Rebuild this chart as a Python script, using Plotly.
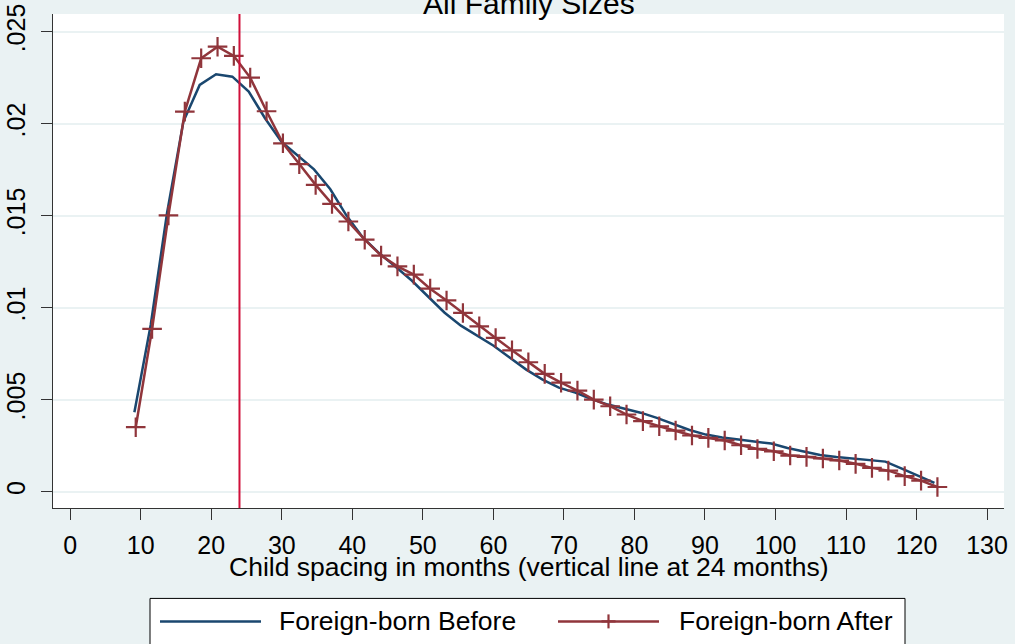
import plotly.graph_objects as go

# ---------------- data ----------------
x_before = [9.10, 11.42, 13.73, 16.05, 18.36, 20.68, 22.99, 25.31, 27.62, 29.94,
            32.25, 34.57, 36.88, 39.20, 41.51, 43.83, 46.14, 48.46, 50.77, 53.09,
            55.40, 57.72, 60.03, 62.35, 64.66, 66.98, 69.29, 71.61, 73.92, 76.24,
            78.55, 80.87, 83.18, 85.50, 87.81, 90.13, 92.44, 94.76, 97.07, 99.39,
            101.70, 104.02, 106.33, 108.65, 110.96, 113.28, 115.59, 117.91, 120.22, 122.54]
y_before = [0.00432, 0.00908, 0.01516, 0.02012, 0.02211, 0.02269, 0.02256, 0.02175, 0.02030, 0.01903,
            0.01828, 0.01752, 0.01644, 0.01500, 0.01381, 0.01296, 0.01223, 0.01147, 0.01060, 0.00973,
            0.00903, 0.00849, 0.00794, 0.00729, 0.00664, 0.00610, 0.00566, 0.00539, 0.00504, 0.00474,
            0.00452, 0.00430, 0.00402, 0.00371, 0.00336, 0.00311, 0.00295, 0.00284, 0.00275, 0.00262,
            0.00238, 0.00219, 0.00200, 0.00189, 0.00181, 0.00173, 0.00164, 0.00126, 0.00088, 0.00049]

x_after = [9.29, 11.61, 13.93, 16.25, 18.57, 20.89, 23.20, 25.52, 27.84, 30.16,
           32.48, 34.80, 37.12, 39.44, 41.76, 44.08, 46.40, 48.72, 51.04, 53.36,
           55.68, 58.00, 60.32, 62.64, 64.96, 67.28, 69.60, 71.92, 74.24, 76.56,
           78.88, 81.20, 83.52, 85.84, 88.16, 90.48, 92.80, 95.12, 97.44, 99.76,
           102.08, 104.40, 106.72, 109.04, 111.36, 113.68, 116.00, 118.32, 120.64, 122.96]
y_after = [0.00351, 0.00885, 0.01502, 0.02066, 0.02356, 0.02419, 0.02369, 0.02251, 0.02068, 0.01894,
           0.01781, 0.01668, 0.01565, 0.01469, 0.01370, 0.01284, 0.01225, 0.01180, 0.01104, 0.01040,
           0.00972, 0.00899, 0.00836, 0.00769, 0.00704, 0.00641, 0.00593, 0.00550, 0.00501, 0.00465,
           0.00420, 0.00384, 0.00356, 0.00333, 0.00306, 0.00293, 0.00279, 0.00253, 0.00233, 0.00220,
           0.00197, 0.00190, 0.00181, 0.00170, 0.00152, 0.00130, 0.00115, 0.00085, 0.00061, 0.00026]

vline_x = 24
x_ticks = [0, 10, 20, 30, 40, 50, 60, 70, 80, 90, 100, 110, 120, 130]
y_ticks = [0, 0.005, 0.01, 0.015, 0.02, 0.025]
y_tick_text = ["0", ".005", ".01", ".015", ".02", ".025"]
series_names = ["Foreign-born Before", "Foreign-born After"]
title_text = "All Family Sizes"
x_title = "Child spacing in months (vertical line at 24 months)"

# ---------------- style ----------------
W, H = 1015, 644
L, R, T, B = 53, 1004, 14, 508.5
BG = "#EAF2F3"
BLUE = "#1A476F"
RED = "#90353B"
VRED = "#D0103A"
FONT = "Liberation Sans, Arial, sans-serif"
FS_TICK = 25
FS_TEXT = 26.5
FS_TITLE = 30


def px(xp):
    return (xp - L) / (R - L)


def py(yp):
    return (B - yp) / (B - T)


fig = go.Figure()
fig.add_trace(go.Scatter(x=x_before, y=y_before, mode="lines", name=series_names[0],
                         line=dict(color=BLUE, width=2.5), showlegend=False))
fig.add_trace(go.Scatter(x=x_after, y=y_after, mode="lines+markers", name=series_names[1],
                         line=dict(color=RED, width=2.5),
                         marker=dict(symbol="cross-thin", size=14, color=RED,
                                     line=dict(color=RED, width=2.2)),
                         showlegend=False))

shapes = [
    dict(type="line", xref="x", yref="paper", x0=vline_x, x1=vline_x, y0=0, y1=1,
         line=dict(color=VRED, width=2)),
    # legend box
    dict(type="rect", xref="paper", yref="paper", x0=px(150), x1=px(905), y0=py(599), y1=py(680),
         line=dict(color="black", width=1), fillcolor="white", layer="above"),
    dict(type="line", xref="paper", yref="paper", x0=px(160), x1=px(261), y0=py(622), y1=py(622),
         line=dict(color=BLUE, width=2.5)),
    dict(type="line", xref="paper", yref="paper", x0=px(558), x1=px(659), y0=py(622), y1=py(622),
         line=dict(color=RED, width=2.5)),
    dict(type="line", xref="paper", yref="paper", x0=px(608.5), x1=px(608.5), y0=py(615), y1=py(629),
         line=dict(color=RED, width=2.2)),
    dict(type="line", xref="paper", yref="paper", x0=px(601.5), x1=px(615.5), y0=py(622), y1=py(622),
         line=dict(color=RED, width=2.2)),
]

annotations = [
    dict(text=title_text, xref="paper", yref="paper", x=0.5, y=py(3),
         xanchor="center", yanchor="middle", showarrow=False,
         font=dict(family=FONT, size=FS_TITLE, color="black")),
    dict(text=x_title, xref="paper", yref="paper", x=0.5, y=py(568),
         xanchor="center", yanchor="middle", showarrow=False,
         font=dict(family=FONT, size=FS_TEXT, color="black")),
    dict(text=series_names[0], xref="paper", yref="paper", x=px(277), y=py(622),
         xanchor="left", yanchor="middle", showarrow=False,
         font=dict(family=FONT, size=FS_TEXT, color="black")),
    dict(text=series_names[1], xref="paper", yref="paper", x=px(677), y=py(622),
         xanchor="left", yanchor="middle", showarrow=False,
         font=dict(family=FONT, size=FS_TEXT, color="black")),
]

fig.update_layout(
    width=W, height=H,
    margin=dict(l=L, r=W - R, t=T, b=H - B, pad=0, autoexpand=False),
    paper_bgcolor=BG, plot_bgcolor="white",
    font=dict(family=FONT, size=FS_TICK, color="black"),
    shapes=shapes, annotations=annotations,
    showlegend=False,
)
fig.update_xaxes(range=[-2.44, 132.4], tickvals=x_ticks, ticks="outside", ticklen=11,
                 tickwidth=1, tickcolor="#333333", showline=True, linecolor="#333333",
                 linewidth=1, showgrid=False, zeroline=False, ticklabelstandoff=4,
                 automargin=False, tickfont=dict(family=FONT, size=FS_TICK))
fig.update_yaxes(range=[-0.00088, 0.025966], tickvals=y_ticks, ticktext=y_tick_text,
                 tickangle=-90, ticks="outside", ticklen=11, tickwidth=1, tickcolor="#333333",
                 showline=True, linecolor="#333333", linewidth=1, showgrid=True,
                 gridcolor=BG, gridwidth=2, zeroline=False, ticklabelstandoff=6,
                 automargin=False, tickfont=dict(family=FONT, size=FS_TICK))

fig.write_html(
    "out.html",
    config={"displayModeBar": False},
    post_script="document.documentElement.style.background='#EAF2F3';"
                "document.body.style.margin='0';document.body.style.background='#EAF2F3';"
                "document.body.style.overflow='hidden';",
)
